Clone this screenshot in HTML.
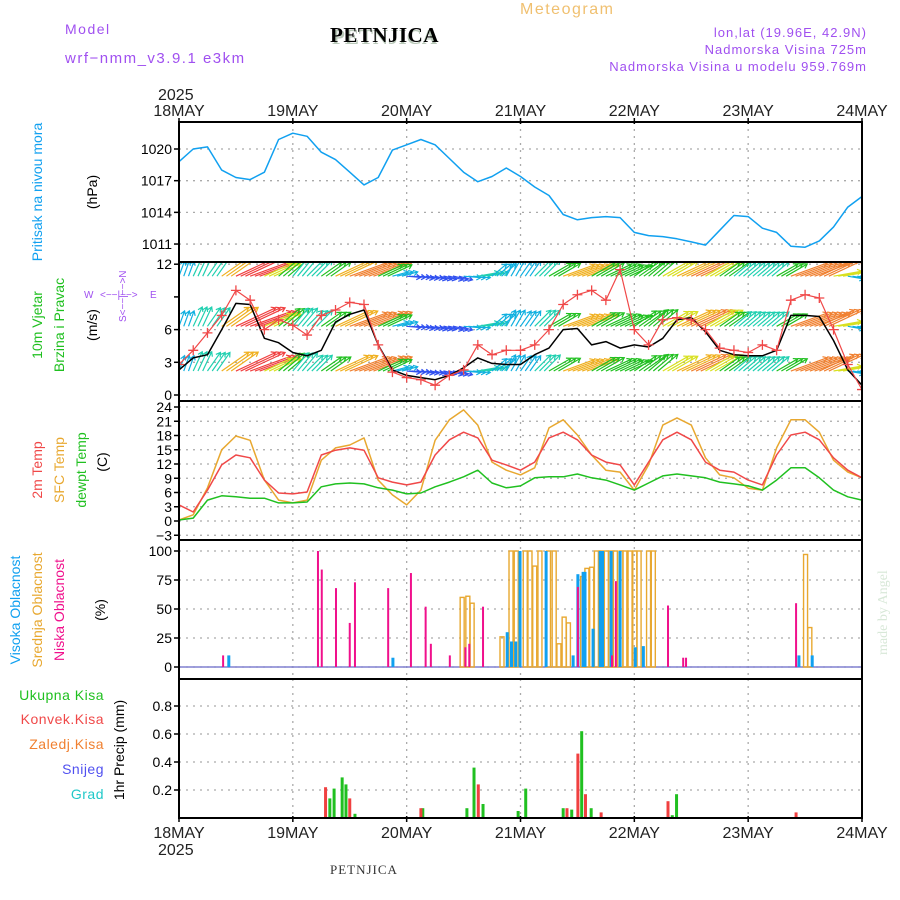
<!DOCTYPE html>
<html><head><meta charset="utf-8"><style>
html,body{margin:0;padding:0;background:#fff;}
svg{display:block;font-family:"Liberation Sans",sans-serif;}
</style></head><body>
<svg id="c" width="900" height="900" viewBox="0 0 900 900" xmlns="http://www.w3.org/2000/svg">
<defs><clipPath id="windclip"><rect x="179" y="262" width="683" height="139"/></clipPath></defs>
<text x="65" y="34" font-size="14" fill="#a050f0" letter-spacing="1.5">Model</text>
<text x="65" y="63" font-size="15" fill="#a050f0" letter-spacing="1.5">wrf−nmm_v3.9.1 e3km</text>
<text x="332" y="44" font-size="21" font-weight="bold" font-family="Liberation Serif,serif" fill="#b8c8b8">PETNJICA</text>
<text x="330" y="42" font-size="21" font-weight="bold" font-family="Liberation Serif,serif" fill="#000" letter-spacing="0.5">PETNJICA</text>
<text x="520" y="14" font-size="16" fill="#f0c070" letter-spacing="1.5">Meteogram</text>
<text x="867" y="37" font-size="13" fill="#a050f0" text-anchor="end" letter-spacing="1">lon,lat (19.96E, 42.9N)</text>
<text x="867" y="54" font-size="13" fill="#a050f0" text-anchor="end" letter-spacing="1">Nadmorska Visina 725m</text>
<text x="867" y="71" font-size="13" fill="#a050f0" text-anchor="end" letter-spacing="1">Nadmorska Visina u modelu 959.769m</text>
<text x="158" y="100" font-size="16" fill="#222">2025</text>
<text x="158" y="855" font-size="16" fill="#222">2025</text>
<text x="330" y="874" font-size="13" font-family="Liberation Serif,serif" fill="#333" letter-spacing="1">PETNJICA</text>
<text transform="translate(887,655) rotate(-90)" font-size="14" font-family="Liberation Serif,serif" fill="#d8e8d8">made by Angel</text>

<text transform="translate(42,192) rotate(-90)" font-size="14" fill="#10a0f0" text-anchor="middle">Pritisak na nivou mora</text>
<text transform="translate(97,192) rotate(-90)" font-size="14" fill="#000" text-anchor="middle">(hPa)</text>
<text transform="translate(42,325) rotate(-90)" font-size="14" fill="#20c020" text-anchor="middle">10m Vjetar</text>
<text transform="translate(64,325) rotate(-90)" font-size="14" fill="#20c020" text-anchor="middle">Brzina i Pravac</text>
<text transform="translate(97,325) rotate(-90)" font-size="14" fill="#000" text-anchor="middle">(m/s)</text>
<g fill="#a050f0" font-size="10">
<text x="84" y="298">W</text><text x="100" y="298">&lt;−−|−−&gt;</text><text x="150" y="298">E</text>
<text transform="translate(126,322) rotate(-90)">S&lt;−−|−−&gt;N</text>
</g>
<text transform="translate(42,470) rotate(-90)" font-size="14" fill="#f04848" text-anchor="middle">2m Temp</text>
<text transform="translate(64,470) rotate(-90)" font-size="14" fill="#e8a830" text-anchor="middle">SFC Temp</text>
<text transform="translate(86,470) rotate(-90)" font-size="14" fill="#20c020" text-anchor="middle">dewpt Temp</text>
<text transform="translate(107,462) rotate(-90)" font-size="14" fill="#000" text-anchor="middle">(C)</text>
<text transform="translate(20,610) rotate(-90)" font-size="14" fill="#10a0f0" text-anchor="middle">Visoka Oblacnost</text>
<text transform="translate(42,610) rotate(-90)" font-size="14" fill="#e8a830" text-anchor="middle">Srednja Oblacnost</text>
<text transform="translate(64,610) rotate(-90)" font-size="14" fill="#f0108c" text-anchor="middle">Niska Oblacnost</text>
<text transform="translate(105,610) rotate(-90)" font-size="14" fill="#000" text-anchor="middle">(%)</text>
<g font-size="14" text-anchor="end" letter-spacing="0.5">
<text x="104" y="700" fill="#20c020">Ukupna  Kisa</text>
<text x="104" y="724" fill="#f04848">Konvek.Kisa</text>
<text x="104" y="749" fill="#f08030">Zaledj.Kisa</text>
<text x="104" y="774" fill="#5050f0">Snijeg</text>
<text x="104" y="799" fill="#20c8c8">Grad</text>
</g>
<text transform="translate(124,750) rotate(-90)" font-size="14" fill="#000" text-anchor="middle">1hr Precip (mm)</text>
<g id="g"></g>
</svg>
<script>
const days = ["18MAY","19MAY","20MAY","21MAY","22MAY","23MAY","24MAY"];
const pressureTicks = [1011,1014,1017,1020];
const windTicks = [0,3,6,12];
const tempTicks = [-3,0,3,6,9,12,15,18,21,24];
const cloudTicks = [0,25,50,75,100];
const precipTicks = [0.2,0.4,0.6,0.8];
const pressure = [1018.8,1020.0,1020.2,1018.0,1017.3,1017.1,1017.8,1020.9,1021.5,1021.2,1019.7,1019.0,1017.8,1016.6,1017.3,1019.9,1020.4,1020.9,1020.4,1019.1,1017.8,1016.9,1017.4,1018.2,1017.4,1016.4,1015.6,1013.8,1013.3,1013.5,1013.6,1013.5,1012.1,1011.8,1011.7,1011.5,1011.2,1010.9,1012.3,1013.7,1013.6,1012.5,1012.1,1010.8,1010.7,1011.3,1012.6,1014.5,1015.5];
const windSpeed = [2.3,3.4,3.7,6.0,8.4,8.3,5.2,4.8,3.9,3.6,4.1,6.7,7.4,7.8,4.6,2.3,1.8,1.6,1.4,1.8,2.5,3.4,2.9,2.8,2.8,3.7,4.3,6.0,6.1,4.6,4.9,4.3,4.6,4.4,5.2,6.9,7.1,5.8,4.1,3.7,3.6,3.6,4.1,7.3,7.3,7.2,5.0,2.3,0.9];
const windGust = [2.8,4.1,5.7,7.3,9.6,8.7,6.0,6.9,6.4,5.5,7.3,7.8,8.5,8.3,4.6,2.1,1.6,1.4,0.9,1.8,2.3,4.6,3.7,4.1,4.1,4.6,6.0,8.3,9.2,9.6,8.7,11.5,6.0,4.6,6.9,7.1,6.9,6.0,4.3,4.1,3.9,4.6,4.1,8.7,9.2,8.9,6.0,2.8,0.5];
const windDir = [-70,-65,-55,-35,-25,-20,-25,-40,-50,-45,-35,-25,-20,-20,-25,-15,5,10,15,15,5,-10,-40,-60,-55,-45,-30,-20,-20,-30,-25,-25,-35,-40,-30,-25,-25,-30,-35,-40,-40,-40,-30,-20,-20,-25,-10,10,15];
const windRows = [10.9,6.3,2.2];
const temp2m = [3.4,1.9,6.5,11.8,13.9,13.3,8.6,5.9,5.7,6.1,13.9,14.9,15.4,14.9,9.1,8.2,7.6,8.2,13.9,17.1,18.7,17.5,12.8,11.8,10.7,12.4,17.5,18.7,17.1,13.9,12.4,11.8,7.6,12.4,17.1,18.7,17.1,12.4,10.7,10.3,8.6,7.6,13.9,18.1,18.7,17.1,13.3,10.7,9.1];
const tempSfc = [0.2,1.3,7.0,15.0,17.9,17.0,8.6,4.4,3.8,4.4,12.8,15.4,16.0,17.5,8.6,5.5,3.4,6.5,17.0,21.3,23.4,20.2,12.4,10.7,9.7,11.2,19.6,21.3,18.1,13.9,10.7,10.3,6.5,11.8,20.2,21.7,20.2,13.3,9.7,9.1,6.9,6.5,15.4,21.3,21.3,18.7,12.8,10.3,9.1];
const dewpt = [0.2,0.6,4.4,5.3,5.1,4.8,4.8,3.8,3.8,4.0,7.2,7.8,8.0,7.8,7.0,6.5,5.7,5.9,7.2,8.2,9.3,10.7,8.0,7.0,7.4,9.1,9.3,9.3,9.9,9.1,8.6,7.6,6.5,8.0,9.5,9.9,9.5,9.1,8.2,7.8,7.4,6.5,8.6,11.2,11.2,9.1,6.5,5.1,4.4];
const cloudLow = [[9.3,10],[29.3,100],[30.1,84],[33.1,68],[36.0,38],[37.1,73],[44.1,68],[48.9,81],[52.0,52],[53.1,20],[57.1,10],[60.4,17],[61.2,20],[64.1,52],[84.1,69],[91.3,10],[92.1,74],[103.1,53],[106.3,8],[106.9,8],[130.1,55]];
const cloudMid = [[59.7,60],[60.9,61],[61.8,55],[68.1,26],[70.0,100],[71.1,100],[73.0,100],[74.0,100],[75.0,87],[76.1,100],[77.9,100],[79.1,100],[80.1,20],[81.2,43],[82.1,38],[85.1,78],[86.0,85],[87.0,86],[88.0,100],[89.0,100],[90.1,100],[91.0,100],[92.0,100],[93.2,100],[94.0,100],[95.1,100],[96.1,100],[97.0,100],[99.0,100],[100.0,100],[132.1,97],[133.0,34]];
const cloudHigh = [[10.5,10],[45.1,8],[69.2,30],[70.1,22],[71.0,22],[71.9,100],[77.4,100],[83.1,10],[84.1,80],[85.2,82],[85.6,82],[87.3,33],[88.8,100],[89.3,100],[91.1,100],[93.0,100],[96.2,17],[97.9,18],[130.7,10],[133.5,10]];
const precipTotal = [[31.8,0.14],[32.7,0.21],[34.4,0.29],[35.2,0.24],[37.1,0.03],[51.4,0.07],[60.7,0.07],[62.2,0.36],[64.1,0.10],[71.5,0.05],[73.1,0.21],[81.0,0.07],[82.8,0.06],[84.9,0.62],[86.9,0.07],[104.0,0.02],[104.9,0.17]];
const precipConv = [[30.9,0.22],[36.0,0.14],[51.0,0.07],[63.1,0.24],[81.8,0.07],[84.1,0.46],[85.7,0.17],[89.0,0.04],[103.1,0.12],[130.1,0.04]];

const NS='http://www.w3.org/2000/svg';
const G=document.getElementById('g');
function mk(tag,attrs,parent){const e=document.createElementNS(NS,tag);for(const k in attrs)e.setAttribute(k,attrs[k]);(parent||G).appendChild(e);return e;}
const X0=179,X1=862,HRS=144;
const xOf=h=>X0+h*(X1-X0)/HRS;
const yP=p=>149+(1020-p)*10.56;
const yW=v=>395-v*10.9;
const yT=t=>521-t*4.75;
const yC=c=>667-c*1.16;
const yR=r=>818-r*140;
const panels=[[122,262],[262,401],[401,540],[540,679],[679,818]];

panels.forEach(([t,b])=>{
  for(let d=1;d<6;d++){const x=xOf(d*24);
    const l=mk('line',{x1:x,x2:x,y1:t,y2:b,stroke:'#aaa','stroke-dasharray':'2,5','stroke-width':1.3});
    }
});
function hgrid(ticks,f,name,fmt){
  ticks.forEach(v=>{const y=f(v);
    const l=mk('line',{x1:X0,x2:X1,y1:y,y2:y,stroke:'#aaa','stroke-dasharray':'2,5','stroke-width':1.3});
    
    mk('line',{x1:X0-5,x2:X0,y1:y,y2:y,stroke:'#000','stroke-width':1.5});
    const t=mk('text',{x:X0-7,y:y+5,'font-size':14,'text-anchor':'end',fill:'#000'});t.textContent=fmt?fmt(v):String(v).replace('-','−');
    
  });
}
hgrid(pressureTicks,yP,'pressure');
hgrid(windTicks,yW,'wind');
mk('line',{x1:X0-5,x2:X0,y1:yW(9),y2:yW(9),stroke:'#000','stroke-width':1.5});
hgrid(tempTicks,yT,'temp');
hgrid(cloudTicks,yC,'cloud');
hgrid(precipTicks,yR,'precip',v=>v.toFixed(1));

days.forEach((d,i)=>{const x=xOf(i*24);
  const a=mk('text',{x:x,y:116,'font-size':16,'text-anchor':'middle',fill:'#222'});a.textContent=d;
  
  const b=mk('text',{x:x,y:838,'font-size':16,'text-anchor':'middle',fill:'#222'});b.textContent=d;
  
  mk('line',{x1:x,x2:x,y1:118,y2:124,stroke:'#000','stroke-width':1.5});
  mk('line',{x1:x,x2:x,y1:816,y2:822,stroke:'#000','stroke-width':1.5});
});

function line(arr,f,color,name,w,parent){
  const d=arr.map((v,i)=>(i?'L':'M')+xOf(i*3).toFixed(1)+','+f(v).toFixed(1)).join(' ');
  const p=mk('path',{d:d,fill:'none',stroke:color,'stroke-width':w||1.5,'stroke-linejoin':'round'},parent);
  return p;
}
line(pressure,yP,'#10a0f0','pressure-line');

function spdColor(v){
  const c=['#8020e0','#3050f0','#10b0e0','#20d0b0','#20c020','#d8e020','#f0b020','#f08030','#f04040'];
  return c[Math.max(0,Math.min(8,Math.floor(v)))];
}
const windG=mk('g',{'clip-path':'url(#windclip)'});

windRows.forEach(rv=>{
  windSpeed.forEach((v,i)=>{
    for(let s=0;s<3;s++){
      if(i===windSpeed.length-1&&s>0)break;
      const x=xOf(i*3+s),y=yW(rv),L=6+v*4.5,a=windDir[i]*Math.PI/180;
      const x2=x+L*Math.cos(a),y2=y+L*Math.sin(a);
      const hl=5,a1=a+Math.PI*0.82,a2=a-Math.PI*0.82;
      const p=mk('path',{d:`M${x},${y} L${x2},${y2} M${x2+hl*Math.cos(a1)},${y2+hl*Math.sin(a1)} L${x2},${y2} L${x2+hl*Math.cos(a2)},${y2+hl*Math.sin(a2)}`,stroke:spdColor(v),'stroke-width':1.2,fill:'none'},windG);
      
    }
  });
});
line(windSpeed,yW,'#000','wind-speed-line',1.5,windG);
line(windGust,yW,'#f04848','wind-gust-line',1.2,windG);
windGust.forEach((v,i)=>{const x=xOf(i*3),y=yW(v);
  const p=mk('path',{d:`M${x-5},${y} L${x+5},${y} M${x},${y-5} L${x},${y+5}`,stroke:'#f04848','stroke-width':1.3},windG);
  
});

line(tempSfc,yT,'#e8a830','sfc-temp-line');
line(temp2m,yT,'#f04848','temp-2m-line');
line(dewpt,yT,'#20c020','dewpt-line');

mk('line',{x1:X0,x2:X1,y1:yC(0),y2:yC(0),stroke:'#8080d0','stroke-width':1.5});
cloudMid.forEach(([h,v])=>{const x=xOf(h);
  const r=mk('rect',{x:x-2,y:yC(v),width:4,height:yC(0)-yC(v),fill:'none',stroke:'#e8a830','stroke-width':1.4});
  });
cloudHigh.forEach(([h,v])=>{const x=xOf(h);
  const r=mk('rect',{x:x-1.5,y:yC(v),width:3,height:yC(0)-yC(v),fill:'#10a0f0'});
  });
cloudLow.forEach(([h,v])=>{const x=xOf(h);
  const r=mk('rect',{x:x-1,y:yC(v),width:2,height:yC(0)-yC(v),fill:'#f0108c'});
  });

precipTotal.forEach(([h,v])=>{const x=xOf(h);
  const r=mk('rect',{x:x-1.5,y:yR(v),width:3,height:yR(0)-yR(v),fill:'#20c020'});
  });
precipConv.forEach(([h,v])=>{const x=xOf(h);
  const r=mk('rect',{x:x-1.5,y:yR(v),width:3,height:yR(0)-yR(v),fill:'#f04040'});
  });

panels.forEach(([t,b])=>{
  const r=mk('rect',{x:X0,y:t,width:X1-X0,height:b-t,fill:'none',stroke:'#000','stroke-width':2});
  
});
</script>
</body></html>
